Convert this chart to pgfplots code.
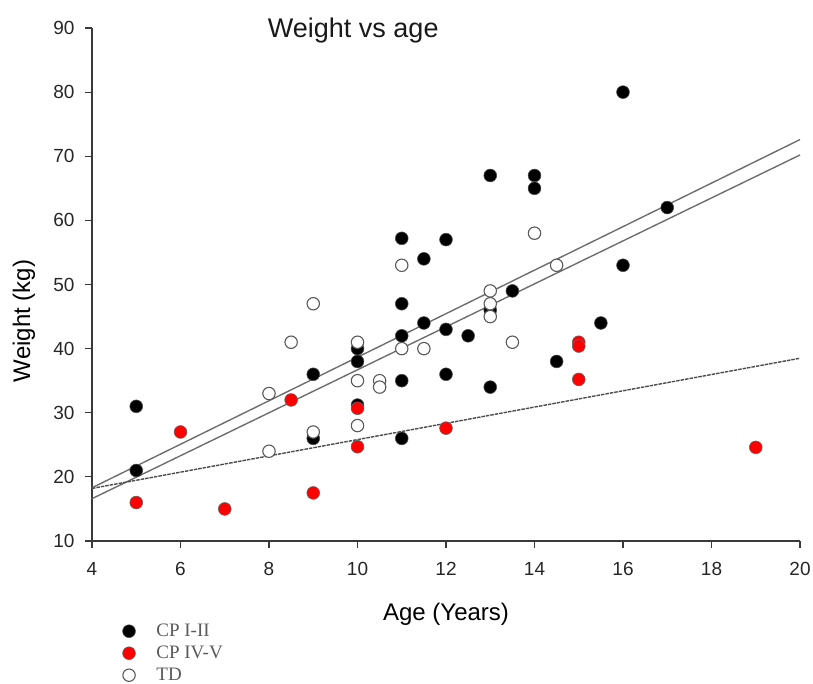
\documentclass[border=0pt]{standalone}
\usepackage{pgfplots}
\pgfplotsset{compat=1.18}
\usepackage{fontspec}
\setmainfont{Liberation Sans}
\newfontfamily\legfont{Liberation Serif}
\definecolor{axgray}{HTML}{3A3A3A}
\definecolor{linegray}{HTML}{6E6E6E}
\definecolor{mkred}{HTML}{FF0000}
\begin{document}
\begin{tikzpicture}
\useasboundingbox (-92pt,-142pt) rectangle (721pt,541pt);
\begin{axis}[
  at={(0pt,0pt)}, anchor=south west,
  scale only axis, width=708pt, height=513pt,
  xmin=4, xmax=20, ymin=10, ymax=90,
  xtick={4,6,...,20}, ytick={10,20,...,90},
  axis lines=left, axis line style={-, axgray, line width=1.3pt},
  tick align=outside, major tick length=7pt,
  tick style={axgray, line width=1.2pt},
  /pgf/number format/assume math mode=true,
  ticklabel style={font=\fontsize{19}{19}\selectfont, text=black!85},
  xticklabel style={yshift=-11pt},
  yticklabel style={xshift=-7pt},
  title={Weight vs age},
  title style={at={(axis description cs:0.369,1.0)}, anchor=center, yshift=-9pt, font=\fontsize{27}{27}\selectfont, text=black!90},
  xlabel={Age (Years)},
  xlabel style={at={(axis description cs:0.5,-0.142)}, anchor=center, font=\fontsize{24}{24}\selectfont},
  ylabel={Weight (kg)},
  ylabel style={at={(axis description cs:-0.096,0.429)}, anchor=center, rotate=0, font=\fontsize{24}{24}\selectfont},
  legend style={at={(axis description cs:0.043,-0.154)}, anchor=north west, draw=none, fill=none,
    inner sep=0pt, row sep=0pt, column sep=20pt,
    font=\legfont\fontsize{19}{22}\selectfont, text=black!65,
    nodes={inner sep=1pt, text height=15pt, text depth=5pt}},
  legend cell align=left,
  clip=false,
]
% regression lines
\addplot[linegray, line width=1.4pt, forget plot] coordinates {(4,18.3) (20,72.6)};
\addplot[linegray, line width=1.4pt, forget plot] coordinates {(4,16.6) (20,70.2)};
\addplot[black!70, line width=1.4pt, dash pattern=on 3.5pt off 1pt, forget plot] coordinates {(4,18.2) (20,38.5)};
% CP I-II
\addplot[only marks, mark=*, mark size=6.4pt, mark options={fill=black, draw=black!70, line width=0.6pt}] coordinates {
(5,31) (5,21) (9,36) (9,26) (10,40) (10,38) (10,31.2) (11,57.2) (11,47) (11,42) (11,35) (11,26)
(11.5,54) (11.5,44) (12,57) (12,43) (12,36) (12.5,42) (13,67) (13,46) (13,34) (13.5,49)
(14,67) (14,65) (14.5,38) (15.5,44) (16,80) (16,53) (17,62)};
\addlegendentry{CP I-II}
% CP IV-V
\addplot[only marks, mark=*, mark size=6.4pt, mark options={fill=mkred, draw=black!60, line width=0.6pt}] coordinates {
(5,16) (6,27) (7,15) (8.5,32) (9,17.5) (10,30.7) (10,24.7) (12,27.6) (15,41) (15,40.4) (15,35.2) (19,24.6)};
\addlegendentry{CP IV-V}
% TD
\addplot[only marks, mark=*, mark size=6.2pt, mark options={fill=white, draw=black!65, line width=1.1pt}] coordinates {
(8,33) (8,24) (8.5,41) (9,47) (9,27) (10,41) (10,35) (10,28) (10.5,35) (10.5,34) (11,53) (11,40)
(11.5,40) (13,49) (13,47) (13,45) (13.5,41) (14,58) (14.5,53)};
\addlegendentry{TD}
\end{axis}
\end{tikzpicture}
\end{document}
